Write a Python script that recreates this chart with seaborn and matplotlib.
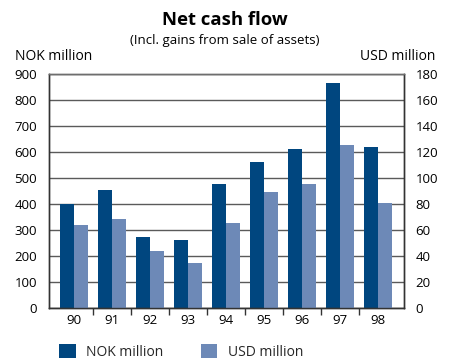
import matplotlib
matplotlib.use("Agg")
import matplotlib.pyplot as plt
from matplotlib.patches import Patch
import seaborn as sns
import pandas as pd
import numpy as np

years = ["90", "91", "92", "93", "94", "95", "96", "97", "98"]
nok_million = [400, 455, 274, 263, 478, 563, 613, 866, 620]
usd_million = [64, 69, 44, 35, 66, 89.5, 96, 125.5, 81]
series = ["NOK million", "USD million"]
colors = ["#00467f", "#6d89b7"]

# long-form table; each axis gets its own series, the other left empty so
# both hue slots stay reserved and the bars sit side by side
n = len(years)
df = pd.DataFrame({
    "year": years * 2,
    "series": [series[0]] * n + [series[1]] * n,
    "nok": nok_million + [np.nan] * n,
    "usd": [np.nan] * n + usd_million,
})

sns.set_theme(style="white")
plt.rcParams["font.family"] = ["Open Sans", "DejaVu Sans"]

fig = plt.figure(figsize=(4.5, 3.6), dpi=100)
ax = fig.add_axes([0.1096, 0.1436, 0.7888, 0.65])
ax2 = ax.twinx()

common = dict(x="year", hue="series", hue_order=series, palette=colors,
              width=0.74, gap=0, saturation=1, legend=False, linewidth=0,
              order=years, errorbar=None)
sns.barplot(data=df, y="nok", ax=ax, **common)
sns.barplot(data=df, y="usd", ax=ax2, **common)

ax.set_ylim(0, 900)
ax2.set_ylim(0, 180)
ax.set_yticks(np.arange(0, 901, 100))
ax2.set_yticks(np.arange(0, 181, 20))
ax.set_xlim(-0.65, 8.69)

# horizontal grid drawn behind the bars
ax.set_axisbelow(True)
ax.yaxis.grid(True, color="#5a5a5a", linewidth=1.0)
ax.xaxis.grid(False)
ax2.grid(False)

# category labels without ticks, separator ticks between years
ax.set_xticks(range(n))
ax.set_xticklabels(years)
ax.set_xticks(np.arange(0.5, n - 1, 1), minor=True)
ax.tick_params(axis="x", which="major", length=0, pad=4, labelsize=9.5, colors="black")
ax.tick_params(axis="x", which="minor", length=5, width=1, color="#333333", bottom=True)
ax.tick_params(axis="y", length=0, pad=9, labelsize=9.5, colors="black")
ax2.tick_params(axis="y", length=0, pad=8, labelsize=9.5, colors="black")

for a in (ax, ax2):
    a.set_xlabel("")
    a.set_ylabel("")
    for name, sp in a.spines.items():
        sp.set_visible(True)
        sp.set_linewidth(1.0)
        sp.set_color("#333333")
ax.spines["top"].set_color("#6e6e6e")
ax2.spines["top"].set_color("#6e6e6e")

fig.text(0.5, 0.945, "Net cash flow", ha="center", va="center",
         fontsize=13.3, fontweight="bold", color="black")
fig.text(0.5, 0.887, "(Incl. gains from sale of assets)", ha="center", va="center",
         fontsize=9.5, color="black")
fig.text(0.033, 0.842, "NOK million", ha="left", va="center", fontsize=10, color="black")
fig.text(0.967, 0.842, "USD million", ha="right", va="center", fontsize=10, color="black")

handles = [Patch(facecolor=c, edgecolor="none") for c in colors]
fig.legend(handles, series, loc="center left", bbox_to_anchor=(0.131, 0.022),
           ncol=2, frameon=False, fontsize=10, handlelength=1.2, handleheight=1.2,
           handletextpad=0.75, columnspacing=2.7, borderaxespad=0, borderpad=0)

fig.savefig("out.png", dpi=100)
